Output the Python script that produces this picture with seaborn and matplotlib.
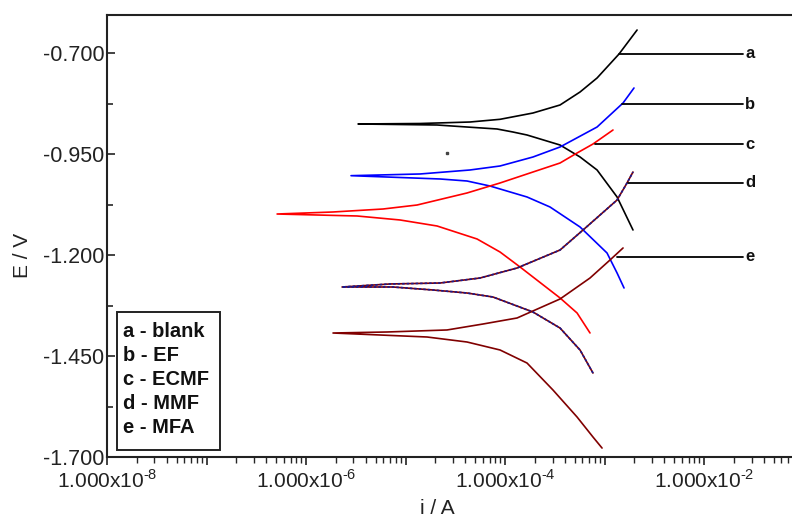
import numpy as np
import pandas as pd
import matplotlib
matplotlib.use("Agg")
import matplotlib.pyplot as plt
import matplotlib.ticker as mticker
from matplotlib.patches import Rectangle
import seaborn as sns

# ---- data (log10 of current in A, potential in V) ----
# each curve: cathodic branch (tip -> bottom) and anodic branch (tip -> top)
a_cat_logi = [-5.477, -4.683, -4.382, -4.080, -3.920, -3.779, -3.447, -3.246, -3.075, -2.874, -2.714]
a_cat_E    = [-0.8747, -0.8772, -0.8822, -0.8871, -0.8946, -0.9020, -0.9268, -0.9565, -0.9887, -1.0556, -1.1374]
a_an_logi  = [-5.477, -4.854, -4.352, -4.050, -3.719, -3.447, -3.246, -3.075, -2.854, -2.673]
a_an_E     = [-0.8747, -0.8735, -0.8698, -0.8631, -0.8475, -0.8276, -0.7954, -0.7607, -0.7012, -0.6418]

b_cat_logi = [-5.548, -4.653, -4.382, -4.151, -3.779, -3.548, -3.246, -2.975, -2.874, -2.804]
b_cat_E    = [-1.0028, -1.0110, -1.0160, -1.0284, -1.0556, -1.0804, -1.1300, -1.1944, -1.2440, -1.2811]
b_an_logi  = [-5.548, -4.854, -4.352, -4.050, -3.719, -3.447, -3.075, -2.814, -2.704]
b_an_E     = [-1.0028, -0.9986, -0.9887, -0.9788, -0.9565, -0.9317, -0.8822, -0.8227, -0.7855]

c_cat_logi = [-6.291, -5.487, -5.055, -4.683, -4.281, -4.050, -3.849, -3.447, -3.276, -3.146]
c_cat_E    = [-1.0978, -1.1027, -1.1126, -1.1275, -1.1597, -1.1920, -1.2291, -1.3059, -1.3431, -1.3926]
c_an_logi  = [-6.291, -5.729, -5.226, -4.884, -4.382, -4.050, -3.719, -3.447, -3.276, -3.116, -2.915]
c_an_E     = [-1.0978, -1.0928, -1.0854, -1.0755, -1.0457, -1.0209, -0.9937, -0.9714, -0.9466, -0.9243, -0.8896]

d_cat_logi = [-5.638, -5.126, -4.724, -4.382, -4.121, -3.719, -3.447, -3.246, -3.116]
d_cat_E    = [-1.2787, -1.2787, -1.2861, -1.2936, -1.3035, -1.3407, -1.3804, -1.4349, -1.4919]
d_an_logi  = [-5.638, -5.156, -4.653, -4.251, -3.879, -3.447, -3.216, -2.874, -2.774, -2.714]
d_an_E     = [-1.2787, -1.2712, -1.2688, -1.2564, -1.2316, -1.1870, -1.1374, -1.0631, -1.0209, -0.9937]

e_cat_logi = [-5.729, -4.784, -4.382, -4.050, -3.779, -3.518, -3.276, -3.116, -3.025]
e_cat_E    = [-1.3927, -1.4026, -1.4150, -1.4348, -1.4671, -1.5340, -1.6009, -1.6505, -1.6778]
e_an_logi  = [-5.729, -5.186, -4.583, -4.221, -3.879, -3.447, -3.146, -2.945, -2.814]
e_an_E     = [-1.3927, -1.3902, -1.3852, -1.3704, -1.3555, -1.3084, -1.2564, -1.2118, -1.1820]

curve_keys   = ["a", "b", "c", "d", "e"]
legend_names = ["blank", "EF", "ECMF", "MMF", "MFA"]
label_E      = [-0.7012, -0.8252, -0.9243, -1.0202, -1.2036]
label_start_logi = [-2.854, -2.824, -3.095, -2.764, -2.874]
stray_logi, stray_E = [-4.583], [-0.9465]

colors = {"a": "#000000", "b": "#0000FF", "c": "#FF0000", "d": "#800000", "e": "#800000"}

branches = {
    "a": (a_cat_logi, a_cat_E, a_an_logi, a_an_E),
    "b": (b_cat_logi, b_cat_E, b_an_logi, b_an_E),
    "c": (c_cat_logi, c_cat_E, c_an_logi, c_an_E),
    "d": (d_cat_logi, d_cat_E, d_an_logi, d_an_E),
    "e": (e_cat_logi, e_cat_E, e_an_logi, e_an_E),
}

rows = []
for k, (cl, ce, al, ae) in branches.items():
    seq_l = list(cl[::-1]) + list(al[1:])
    seq_e = list(ce[::-1]) + list(ae[1:])
    for idx, (l, e) in enumerate(zip(seq_l, seq_e)):
        rows.append({"curve": k, "order": idx, "i": 10.0 ** l, "E": e})
df = pd.DataFrame(rows)

# ---- figure ----
sns.set_style("white")
plt.rcParams["font.family"] = ["Liberation Sans", "DejaVu Sans"]
plt.rcParams["mathtext.fontset"] = "custom"
plt.rcParams["mathtext.rm"] = "Liberation Sans"
plt.rcParams["axes.unicode_minus"] = False

fig = plt.figure(figsize=(7.92, 5.19), dpi=100)
ax = fig.add_axes([107 / 792, 1 - 457 / 519, 1 - 107 / 792, (457 - 15) / 519])

for k in curve_keys:
    sub = df[df["curve"] == k]
    sns.lineplot(data=sub, x="i", y="E", sort=False, estimator=None,
                 color=colors[k], lw=1.2, ax=ax, legend=False)
    if k == "d":
        ax.plot(sub["i"], sub["E"], color="#1A1A90", lw=1.2,
                dashes=(1.5, 1.2), zorder=3)

ax.plot([10.0 ** v for v in stray_logi], stray_E, "s", color="#444444", ms=1.5)

ax.set_xscale("log")
ax.set_xlim(1e-8, 10 ** -1.116)
ax.set_ylim(-1.700, -0.6046)

# label lines
for k, E0, l0 in zip(curve_keys, label_E, label_start_logi):
    ax.plot([10 ** l0, 10 ** -1.608], [E0, E0], color="black", lw=1.3)
    ax.text(10 ** -1.585, E0, k, fontsize=12, fontweight="bold",
            va="center", ha="left", color="#111111")

# legend box
ax.add_patch(Rectangle((0.0146, 0.0158), 0.1504, 0.3122, transform=ax.transAxes,
                       fc="white", ec="#222222", lw=1.4, zorder=4))
legend_text = "\n".join(f"{k} - {n}" for k, n in zip(curve_keys, legend_names))
ax.text(0.0235, 0.175, legend_text, transform=ax.transAxes, fontsize=14.5,
        fontweight="bold", va="center", ha="left", linespacing=1.33,
        color="#111111", zorder=5)

# ticks
ax.set_yticks([-0.700, -0.950, -1.200, -1.450, -1.700])
ax.yaxis.set_major_formatter(mticker.FormatStrFormatter("%.3f"))
ax.yaxis.set_minor_locator(mticker.FixedLocator([-0.825, -1.075, -1.325, -1.575]))
ax.xaxis.set_major_locator(mticker.LogLocator(base=10, numticks=20))
ax.xaxis.set_minor_locator(mticker.LogLocator(base=10, subs=np.arange(2, 10), numticks=20))


def fmt(x, pos):
    e = int(round(np.log10(x)))
    if e % 2 == 0:
        return r"1.000x10$^{\text{-}%d}$" % abs(e)
    return ""


ax.xaxis.set_major_formatter(mticker.FuncFormatter(fmt))
ax.xaxis.set_minor_formatter(mticker.NullFormatter())

ax.tick_params(axis="y", which="major", direction="in", length=6, width=1.2,
               labelsize=15.5, colors="#222222", pad=2, left=True)
ax.tick_params(axis="y", which="minor", direction="in", length=4, width=1.2, left=True)
ax.tick_params(axis="x", which="major", direction="out", length=6, width=1.2,
               labelsize=15, colors="#222222", pad=3, bottom=True)
ax.tick_params(axis="x", which="minor", direction="out", length=4, width=1.0, bottom=True)

for s in ["left", "bottom", "top"]:
    ax.spines[s].set_visible(True)
    ax.spines[s].set_color("#222222")
    ax.spines[s].set_linewidth(1.5)
ax.spines["right"].set_visible(False)

ax.set_xlabel("i / A", fontsize=15, color="#222222", labelpad=6)
ax.set_ylabel("E / V", fontsize=15, color="#222222", labelpad=12)
ax.xaxis.set_label_coords((437 - 107) / (792 - 107), -0.095)
ax.yaxis.set_label_coords(-(107 - 32) / (792 - 107), 0.455)

fig.savefig("out.png", dpi=100)
